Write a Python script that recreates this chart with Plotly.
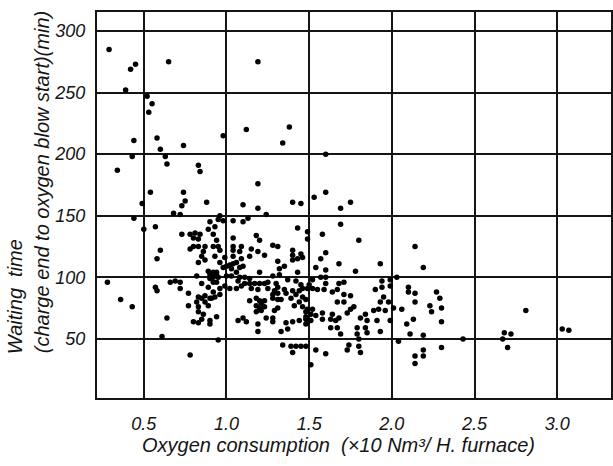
import plotly.graph_objects as go

# Oxygen consumption (x10 Nm3 / H. furnace)
x_oxygen = [
    0.29, 0.34, 0.39, 0.42, 0.45, 0.44, 0.43, 0.44, 0.52, 0.55, 0.53, 0.58, 0.60, 0.49, 0.54, 0.50,
    0.57, 0.65, 0.63, 0.64, 0.74, 0.74, 0.75, 0.73, 0.72, 0.68, 0.83, 0.84, 0.88, 0.98, 1.19, 1.12,
    1.10, 1.19, 1.19, 1.24, 1.38, 1.34, 1.40, 1.45, 1.53, 1.60, 1.60, 1.75, 1.69,
    0.28, 0.36, 0.43, 0.58, 0.60, 0.57, 0.58, 0.66, 0.69, 0.72, 0.72, 0.64, 0.61, 0.78, 0.95,
    0.96, 0.95, 0.90, 0.98, 1.04, 1.10, 1.13, 0.93, 0.89, 1.43, 0.73, 0.78, 0.81, 0.84, 0.92, 1.04,
    1.18, 1.49, 0.83, 0.80, 0.94, 1.20, 0.80, 0.83, 0.87, 0.78, 0.92, 0.95, 1.04, 1.09, 1.28, 1.31,
    0.96, 1.04, 1.08, 1.15, 1.19, 1.23, 1.40, 1.40, 1.45, 0.86, 0.85, 0.93, 1.14, 1.09, 0.87, 0.99,
    1.04, 1.40, 1.43, 1.46, 0.83, 0.96, 1.02, 1.04, 1.06, 1.10, 1.08, 1.31, 1.35, 1.32, 0.98, 1.00,
    1.03, 0.89, 0.92, 0.94, 1.06, 1.20, 1.43, 0.90, 0.92, 0.94, 0.95, 0.82, 1.00, 1.03, 1.08, 1.11,
    0.90, 0.92, 0.94, 1.07, 1.14, 1.28, 1.32, 1.37, 1.42, 0.85, 0.96, 1.02, 1.06, 1.11, 1.14, 1.17,
    1.20, 1.23, 1.25, 1.30, 1.31, 0.89, 0.92, 0.99, 1.09, 1.15, 1.19, 1.25, 1.29, 1.35, 1.36, 1.40,
    1.42, 1.44, 1.46, 1.49, 1.28, 1.31, 0.77, 0.83, 0.85, 0.87, 0.90, 0.91, 0.93, 0.96, 1.14, 1.18,
    1.20, 1.21, 1.23, 1.28, 1.31, 1.33, 1.39, 1.46, 1.48, 0.77, 0.82, 0.83, 0.87, 0.89, 1.18, 1.20,
    1.23, 1.29, 1.31, 1.41, 1.46, 1.49, 0.83, 0.86, 1.18, 1.21, 1.48, 0.85, 0.90, 0.94, 1.07, 1.10,
    1.12, 1.24, 1.28, 1.28, 1.36, 1.40, 1.44, 1.48, 1.49, 0.80, 0.83, 0.90, 1.19, 1.37, 1.19, 1.33,
    1.34, 1.39, 1.42, 1.45, 1.48, 1.40,
    1.69, 1.58, 1.49, 1.80, 2.14, 1.60, 1.57, 1.68, 1.93, 2.19, 1.54, 1.60, 1.78, 1.57, 1.60, 1.52,
    2.03, 1.94, 1.99, 1.68, 1.71, 1.60, 1.45, 1.50, 1.52, 1.94, 1.99, 2.10, 1.59, 1.67, 1.55, 1.64,
    1.90, 2.10, 2.14, 2.27, 1.71, 1.75, 1.95, 1.93, 1.98, 2.14, 2.29, 1.67, 1.71, 1.44, 2.23, 1.52,
    1.77, 1.75, 1.73, 1.89, 1.92, 1.96, 2.01, 2.06, 2.30, 1.58, 1.64, 1.48, 1.51, 1.54, 1.84, 2.24,
    1.51, 1.58, 1.63, 1.66, 1.68, 1.81, 1.85, 1.91, 1.99, 2.13, 2.30, 1.48, 1.63, 1.67, 1.79, 1.84,
    2.09, 1.93, 1.85, 1.69, 1.79, 2.11, 2.19, 1.80, 2.04, 1.74, 1.73, 1.80, 1.81, 1.54, 1.60, 2.19,
    2.19, 2.14, 2.30, 2.14, 1.51,
    2.43, 2.68, 2.72, 2.67, 2.70, 2.81, 3.03, 3.07,
]

# Waiting time, charge end to oxygen blow start (min)
y_wait = [
    285, 187, 252, 269, 273, 211, 198, 148, 247, 241, 234, 213, 204, 160, 169, 139,
    141, 275, 198, 192, 207, 169, 162, 158, 151, 152, 191, 186, 161, 215, 275, 220,
    159, 176, 156, 151, 222, 209, 161, 160, 165, 200, 169, 161, 156,
    96, 82, 76, 115, 122, 92, 89, 96, 97, 96, 91, 67, 52, 37, 49,
    150, 147, 145, 146, 146, 145, 148, 141, 139, 140, 135, 135, 136, 135, 135, 132,
    134, 137, 131, 132, 130, 130, 125, 125, 125, 123, 125, 125, 125, 125, 126, 125,
    122, 122, 121, 123, 121, 118, 122, 118, 119, 121, 117, 117, 117, 115, 114, 116,
    117, 114, 115, 116, 112, 112, 110, 111, 112, 109, 108, 113, 109, 107, 108, 109,
    107, 105, 104, 104, 104, 104, 104, 102, 100, 102, 100, 101, 101, 101, 100, 100,
    99, 96, 96, 97, 99, 101, 102, 98, 97, 95, 91, 91, 91, 95, 95, 95,
    95, 95, 96, 95, 92, 92, 88, 93, 93, 91, 90, 91, 89, 90, 87, 89,
    86, 89, 91, 91, 86, 87, 87, 84, 83, 85, 83, 83, 84, 86, 81, 83,
    81, 79, 81, 83, 82, 82, 83, 84, 82, 77, 80, 76, 80, 77, 77, 75,
    76, 73, 75, 77, 76, 74, 72, 70, 72, 73, 72, 66, 65, 68, 65, 67,
    64, 67, 67, 64, 63, 64, 65, 66, 64, 64, 63, 62, 62, 58, 56, 56,
    45, 44, 44, 44, 44, 39,
    143, 135, 131, 130, 125, 120, 115, 111, 111, 108, 108, 106, 105, 100, 100, 98,
    100, 97, 98, 95, 96, 95, 94, 94, 91, 92, 93, 92, 90, 90, 90, 88,
    90, 88, 87, 88, 86, 85, 84, 80, 80, 80, 83, 80, 80, 80, 77, 74,
    76, 74, 71, 73, 74, 73, 75, 74, 75, 71, 70, 68, 70, 69, 70, 72,
    65, 66, 66, 65, 67, 67, 65, 65, 65, 66, 64, 62, 59, 59, 59, 59,
    62, 56, 55, 54, 54, 54, 53, 50, 48, 45, 41, 44, 39, 41, 38, 41,
    36, 36, 43, 30, 29,
    50, 55, 54, 50, 43, 73, 58, 57,
]

x_ticks = [0.5, 1.0, 1.5, 2.0, 2.5, 3.0]
x_tick_labels = ["0.5", "1.0", "1.5", "2.0", "2.5", "3.0"]
y_ticks = [50, 100, 150, 200, 250, 300]
y_tick_labels = ["50", "100", "150", "200", "250", "300"]

FONT = "Liberation Sans Narrow, Liberation Sans, DejaVu Sans, sans-serif"
INK = "#151515"

fig = go.Figure()
fig.add_trace(go.Scatter(
    x=x_oxygen, y=y_wait, mode="markers",
    marker=dict(color="black", size=5.5, line=dict(width=0)),
    showlegend=False, hoverinfo="x+y",
))

fig.update_layout(
    width=613, height=466,
    margin=dict(l=97, r=0, t=12, b=68),
    paper_bgcolor="white", plot_bgcolor="white",
    font=dict(family=FONT, color=INK),
)
fig.update_xaxes(
    range=[0.217, 3.325], tickvals=x_ticks, ticktext=x_tick_labels,
    showgrid=True, gridcolor=INK, gridwidth=1.6,
    showline=True, linecolor=INK, linewidth=2, mirror=True,
    ticks="", zeroline=False, ticklabelstandoff=8,
    tickfont=dict(family=FONT, size=18, style="italic", color=INK),
)
fig.update_yaxes(
    range=[2, 315.4], tickvals=y_ticks, ticktext=y_tick_labels,
    showgrid=True, gridcolor=INK, gridwidth=1.6,
    showline=True, linecolor=INK, linewidth=2, mirror=True,
    ticks="", zeroline=False, ticklabelstandoff=6,
    tickfont=dict(family=FONT, size=18, style="italic", color=INK),
)

# axis titles as annotations (positioned in paper coords)
fig.add_annotation(
    text="Oxygen consumption  (×10 Nm³/ H. furnace)",
    xref="paper", yref="paper", x=(339 - 97) / 516, y=-(445 - 398) / 386,
    showarrow=False, xanchor="center", yanchor="middle",
    font=dict(family=FONT, size=20, style="italic", color=INK),
)
fig.add_annotation(
    text="Waiting  time",
    xref="paper", yref="paper", x=-(97 - 15) / 516, y=(398 - 297) / 386,
    showarrow=False, xanchor="center", yanchor="middle", textangle=-90,
    font=dict(family=FONT, size=20, style="italic", color=INK),
)
fig.add_annotation(
    text="(charge end to oxygen blow start)(min)",
    xref="paper", yref="paper", x=-(97 - 42) / 516, y=(398 - 182) / 386,
    showarrow=False, xanchor="center", yanchor="middle", textangle=-90,
    font=dict(family=FONT, size=20, style="italic", color=INK),
)

fig.write_html(
    "out.html",
    config={"displayModeBar": False},
    post_script="document.body.style.margin='0';document.body.style.overflow='hidden';"
                "document.documentElement.style.overflow='hidden';",
)
